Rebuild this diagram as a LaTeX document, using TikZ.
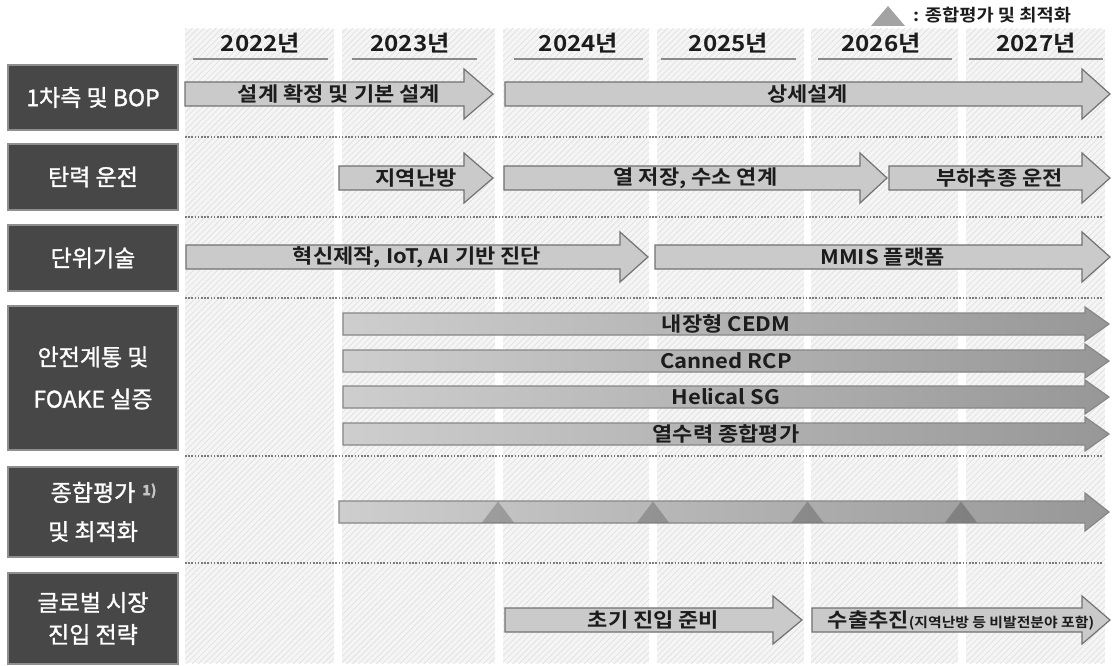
\documentclass[tikz,border=0pt]{standalone}
\usepackage{fontspec}
\setmainfont{Noto Sans CJK KR}[BoldFont={Noto Sans CJK KR Bold}]
\newfontfamily\arrfont{Noto Sans CJK KR Bold}[FakeStretch=1.1]
\newfontfamily\lblfont{Noto Sans CJK KR}[FakeBold=1.2]
\usetikzlibrary{patterns.meta}
\definecolor{boxfill}{HTML}{474747}
\definecolor{boxline}{HTML}{8E8E8E}
\definecolor{arrfill}{HTML}{CACACA}
\definecolor{arrline}{HTML}{727272}
\definecolor{gradL}{HTML}{CECECE}
\definecolor{gradR}{HTML}{979797}
\definecolor{txt}{HTML}{1C1C1C}
\definecolor{colbg}{HTML}{F5F5F5}
\definecolor{hatch}{HTML}{E2E2E2}
\definecolor{hdrline}{HTML}{8A8A8A}
\definecolor{dotc}{HTML}{7A7A7A}
\definecolor{tri}{HTML}{A3A3A3}
\definecolor{supc}{HTML}{C4C4C4}

\newcommand{\barrow}[9]{%
  \path[#8] (#2,#4-#5) -- (#3-#7,#4-#5) -- (#3-#7,#4-#6) -- (#3,#4) -- (#3-#7,#4+#6) -- (#3-#7,#4+#5) -- (#2,#4+#5) -- cycle;
  \node[arrowtext] (#1) at ({(#2+#3)/2},#4) {#9};
}

\begin{document}
\begin{tikzpicture}[x=1pt,y=-1pt,
  lbox/.style={draw=boxline, line width=1.2pt, fill=boxfill, text=white, minimum width=170pt, inner sep=0pt, align=center},
  lfont/.style={font=\lblfont\fontsize{23}{#1}\selectfont},
  year/.style={font=\arrfont\fontsize{22}{22}\selectfont, text=txt, inner sep=0pt},
  hline/.style={draw=hdrline, line width=2pt},
  dotline/.style={draw=dotc, line width=1.6pt, dash pattern=on 1.6pt off 1.6pt},
  plainarr/.style={fill=arrfill, draw=arrline, line width=1.2pt, line join=miter},
  gradarr/.style={left color=gradL, right color=gradR, draw=arrline!85, line width=1.2pt, line join=miter},
  arrowtext/.style={font=\arrfont\fontsize{20}{20}\selectfont, text=txt, inner sep=0pt},
  hatchcol/.style={pattern={Lines[angle=45,distance=4.2pt,line width=0.8pt]}, pattern color=hatch}
]
\useasboundingbox (0,0) rectangle (1117,666);
\fill[white] (0,0) rectangle (1117,666);

% year columns
\foreach \l/\r in {185/334,342/495,503/649,657/804,811/958,966/1105}{
  \fill[colbg] (\l,29) rectangle (\r,663);
  \path[hatchcol] (\l,29) rectangle (\r,663);
}

% legend
\fill[tri] (888,6) -- (905,26) -- (871,26) -- cycle;
\node[anchor=west, font=\arrfont\fontsize{17}{17}\selectfont, text=txt, inner sep=0pt] (legend) at (913,15) {: 종합평가 및 최적화};

% year headers
\node[year] (y22) at (260.5,43) {2022년};
\node[year] (y23) at (410,43) {2023년};
\node[year] (y24) at (578.5,43) {2024년};
\node[year] (y25) at (728.5,43) {2025년};
\node[year] (y26) at (881,43) {2026년};
\node[year] (y27) at (1036,43) {2027년};
\draw[hline] (193,59) -- (328,59);
\draw[hline] (352,59) -- (477,59);
\draw[hline] (514,59) -- (643,59);
\draw[hline] (661,59) -- (796,59);
\draw[hline] (818,59) -- (952,59);
\draw[hline] (969,59) -- (1103,59);

% left boxes
\node[lbox, lfont=26, minimum height=65pt] (b1) at (93,97.5) {1차측 및 BOP};
\node[lbox, lfont=26, minimum height=66pt] (b2) at (93,177) {탄력 운전};
\node[lbox, lfont=26, minimum height=66pt] (b3) at (93,258) {단위기술};
\node[lbox, lfont=42, minimum height=144pt] (b4) at (93,378) {안전계통 및\\FOAKE 실증};
\node[lbox, lfont=39, minimum height=90pt] (b5) at (93,512) {종합평가\rlap{\hspace{7pt}\raisebox{6pt}{\color{supc}\bfseries\fontsize{14}{14}\selectfont 1)}}\\및 최적화};
\node[lbox, lfont=32, minimum height=91pt] (b6) at (93,618.5) {글로벌 시장\\진입 전략};

% dotted separators
\foreach \y in {137,217,298,456,563}{
  \draw[dotline] (185,\y) -- (1103,\y);
}

% row 1
\barrow{a1}{185}{493}{94}{12}{25}{29}{plainarr}{설계 확정 및 기본 설계}
\barrow{a2}{505}{1110}{94}{12}{25}{28}{plainarr}{상세설계}
% row 2
\barrow{a3}{339}{493}{178}{12}{25}{29}{plainarr}{지역난방}
\barrow{a4}{504}{887}{178}{12}{25}{27}{plainarr}{열 저장, 수소 연계}
\barrow{a5}{889}{1110}{178}{12}{25}{28}{plainarr}{부하추종 운전}
% row 3
\barrow{a6}{186}{648}{257}{12}{25}{28}{plainarr}{혁신제작, IoT, AI 기반 진단}
\barrow{a7}{655}{1110}{257}{12}{25}{28}{plainarr}{MMIS 플랫폼}
% row 4
\barrow{a8}{343}{1109}{324}{11}{17}{24}{gradarr}{내장형 CEDM}
\barrow{a9}{343}{1109}{361}{11}{17}{24}{gradarr}{Canned RCP}
\barrow{a10}{343}{1109}{397}{11}{17}{24}{gradarr}{Helical SG}
\barrow{a11}{343}{1109}{434}{11}{17}{24}{gradarr}{열수력 종합평가}
% row 5
\barrow{a12}{339}{1109}{512}{11}{19}{24}{gradarr}{}
\foreach \xc in {498,653,807.5,961}{
  \fill[black, fill opacity=0.2] (\xc,501.5) -- (\xc+16,522.5) -- (\xc-16,522.5) -- cycle;
}
% row 6
\barrow{a13}{505}{802}{620}{12}{24}{29}{plainarr}{초기 진입 준비}
\barrow{a14}{812}{1110}{620}{12}{24}{28}{plainarr}{수출추진{\fontsize{13.5}{13.5}\selectfont(지역난방 등 비발전분야 포함)}}
\end{tikzpicture}
\end{document}
